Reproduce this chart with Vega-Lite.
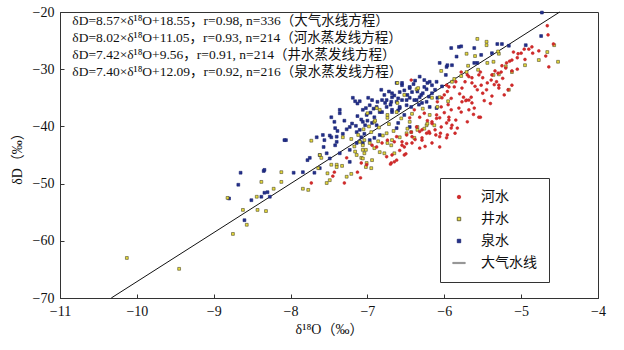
{
  "$schema": "https://vega.github.io/schema/vega-lite/v6.json",
  "width": 538,
  "height": 286,
  "autosize": "none",
  "padding": {"left": 60, "top": 12, "right": 26, "bottom": 52},
  "background": "white",
  "config": {
    "view": {"stroke": "#333", "strokeWidth": 1},
    "font": "Liberation Serif",
    "axis": {
      "grid": false,
      "domainColor": "#333",
      "tickColor": "#333",
      "tickSize": -4,
      "labelPadding": 10,
      "labelFont": "Liberation Serif",
      "labelFontSize": 14,
      "labelColor": "#111",
      "titleFont": "'Liberation Serif', 'Noto Sans CJK SC'",
      "titleFontSize": 14,
      "titleFontWeight": "normal",
      "titleColor": "#111",
      "labelFlush": false,
      "format": "d"
    }
  },
  "layer": [
    {
      "data": {"values": [
        {"x": -10.333, "y": -70},
        {"x": -4.498, "y": -20}
      ]},
      "mark": {"type": "line", "color": "#111", "strokeWidth": 1},
      "encoding": {
        "x": {"field": "x", "type": "quantitative", "scale": {"domain": [-11, -4], "nice": false, "zero": false},
          "axis": {"values": [-11, -10, -9, -8, -7, -6, -5, -4], "title": "δ¹⁸O（‰）", "titlePadding": 4}},
        "y": {"field": "y", "type": "quantitative", "scale": {"domain": [-70, -20], "nice": false, "zero": false},
          "axis": {"values": [-70, -60, -50, -40, -30, -20], "title": "δD（‰）", "titlePadding": 8}}
      }
    },
    {
      "data": {"values": [
        {"t":"泉水","x":-8.65,"y":-48.1},{"t":"泉水","x":-8.68,"y":-50.2},{"t":"泉水","x":-8.80,"y":-52.6},{"t":"泉水","x":-8.51,"y":-52.9},{"t":"泉水","x":-8.60,"y":-56.4},
        {"t":"泉水","x":-8.06,"y":-42.4},{"t":"泉水","x":-8.35,"y":-47.8},{"t":"泉水","x":-8.30,"y":-51.5},{"t":"泉水","x":-8.34,"y":-51.6},{"t":"泉水","x":-8.38,"y":-52.3},
        {"t":"泉水","x":-8.27,"y":-52.3},{"t":"泉水","x":-7.84,"y":-48.0},{"t":"泉水","x":-7.78,"y":-45.9},{"t":"泉水","x":-7.69,"y":-48.1},{"t":"泉水","x":-7.62,"y":-47.3},
        {"t":"泉水","x":-7.57,"y":-43.6},{"t":"泉水","x":-7.53,"y":-44.7},{"t":"泉水","x":-7.49,"y":-45.6},{"t":"泉水","x":-7.42,"y":-43.3},{"t":"泉水","x":-7.40,"y":-42.7},
        {"t":"泉水","x":-7.36,"y":-44.7},{"t":"泉水","x":-7.23,"y":-44.1},{"t":"泉水","x":-7.23,"y":-46.2},{"t":"泉水","x":-7.14,"y":-42.9},{"t":"泉水","x":-7.10,"y":-42.6},
        {"t":"泉水","x":-7.96,"y":-48.1},{"t":"泉水","x":-8.34,"y":-47.6},{"t":"泉水","x":-7.62,"y":-45.0},{"t":"泉水","x":-7.75,"y":-45.5},{"t":"泉水","x":-7.58,"y":-41.5},
        {"t":"泉水","x":-7.49,"y":-41.6},{"t":"泉水","x":-7.40,"y":-41.8},{"t":"泉水","x":-7.16,"y":-35.6},{"t":"泉水","x":-7.10,"y":-35.6},{"t":"泉水","x":-7.13,"y":-36.0},
        {"t":"泉水","x":-7.36,"y":-37.7},{"t":"泉水","x":-7.13,"y":-38.2},{"t":"泉水","x":-7.06,"y":-39.2},{"t":"泉水","x":-7.23,"y":-40.1},{"t":"泉水","x":-7.27,"y":-40.5},
        {"t":"泉水","x":-7.39,"y":-40.8},{"t":"泉水","x":-7.32,"y":-41.3},{"t":"泉水","x":-7.14,"y":-41.0},{"t":"泉水","x":-7.10,"y":-40.6},{"t":"泉水","x":-7.04,"y":-41.3},
        {"t":"泉水","x":-7.42,"y":-40.3},{"t":"泉水","x":-7.47,"y":-41.9},{"t":"泉水","x":-7.56,"y":-42.4},{"t":"泉水","x":-7.66,"y":-41.9},{"t":"泉水","x":-8.08,"y":-42.4},
        {"t":"泉水","x":-7.03,"y":-39.8},{"t":"泉水","x":-7.00,"y":-39.0},{"t":"泉水","x":-7.47,"y":-38.4},{"t":"泉水","x":-7.43,"y":-39.2},{"t":"泉水","x":-7.19,"y":-35.0},
        {"t":"泉水","x":-7.36,"y":-37.1},{"t":"泉水","x":-6.94,"y":-39.4},{"t":"泉水","x":-6.88,"y":-39.8},{"t":"泉水","x":-6.62,"y":-40.3},{"t":"泉水","x":-6.60,"y":-39.4},
        {"t":"泉水","x":-7.06,"y":-42.9},{"t":"泉水","x":-6.97,"y":-42.4},{"t":"泉水","x":-6.91,"y":-42.0},{"t":"泉水","x":-6.84,"y":-41.5},{"t":"泉水","x":-7.08,"y":-41.9},
        {"t":"泉水","x":-6.45,"y":-40.1},{"t":"泉水","x":-6.82,"y":-33.6},{"t":"泉水","x":-5.97,"y":-29.6},{"t":"泉水","x":-6.22,"y":-32.4},{"t":"泉水","x":-6.10,"y":-32.2},
        {"t":"泉水","x":-6.26,"y":-33.1},{"t":"泉水","x":-6.45,"y":-33.3},{"t":"泉水","x":-6.42,"y":-34.0},{"t":"泉水","x":-6.55,"y":-32.8},{"t":"泉水","x":-6.58,"y":-34.0},
        {"t":"泉水","x":-6.68,"y":-34.2},{"t":"泉水","x":-6.78,"y":-34.5},{"t":"泉水","x":-6.81,"y":-35.4},{"t":"泉水","x":-6.87,"y":-35.7},{"t":"泉水","x":-6.94,"y":-35.4},
        {"t":"泉水","x":-6.97,"y":-36.3},{"t":"泉水","x":-6.88,"y":-36.6},{"t":"泉水","x":-6.75,"y":-36.6},{"t":"泉水","x":-6.69,"y":-35.7},{"t":"泉水","x":-6.62,"y":-35.7},
        {"t":"泉水","x":-6.55,"y":-35.4},{"t":"泉水","x":-6.45,"y":-35.0},{"t":"泉水","x":-6.39,"y":-35.4},{"t":"泉水","x":-6.32,"y":-34.9},{"t":"泉水","x":-6.23,"y":-35.7},
        {"t":"泉水","x":-6.49,"y":-36.3},{"t":"泉水","x":-6.58,"y":-36.8},{"t":"泉水","x":-6.84,"y":-37.5},{"t":"泉水","x":-6.68,"y":-37.5},{"t":"泉水","x":-7.01,"y":-38.0},
        {"t":"泉水","x":-6.91,"y":-38.4},{"t":"泉水","x":-7.06,"y":-37.1},{"t":"泉水","x":-7.08,"y":-38.8},{"t":"泉水","x":-5.91,"y":-26.3},{"t":"泉水","x":-5.81,"y":-26.1},
        {"t":"泉水","x":-5.84,"y":-27.8},{"t":"泉水","x":-6.06,"y":-28.9},{"t":"泉水","x":-5.96,"y":-29.3},{"t":"泉水","x":-5.90,"y":-29.3},{"t":"泉水","x":-6.19,"y":-32.2},
        {"t":"泉水","x":-6.16,"y":-32.8},{"t":"泉水","x":-6.32,"y":-31.3},{"t":"泉水","x":-6.55,"y":-32.4},{"t":"泉水","x":-6.62,"y":-32.4},{"t":"泉水","x":-6.45,"y":-33.1},
        {"t":"泉水","x":-6.23,"y":-33.5},{"t":"泉水","x":-6.16,"y":-34.2},{"t":"泉水","x":-6.09,"y":-35.0},{"t":"泉水","x":-6.30,"y":-34.5},{"t":"泉水","x":-6.68,"y":-34.9},
        {"t":"泉水","x":-6.49,"y":-35.4},{"t":"泉水","x":-6.36,"y":-35.4},{"t":"泉水","x":-6.75,"y":-35.4},{"t":"泉水","x":-6.58,"y":-36.6},{"t":"泉水","x":-6.43,"y":-36.6},
        {"t":"泉水","x":-6.29,"y":-35.9},{"t":"泉水","x":-6.19,"y":-36.6},{"t":"泉水","x":-6.10,"y":-36.8},{"t":"泉水","x":-6.81,"y":-37.5},{"t":"泉水","x":-6.68,"y":-37.1},
        {"t":"泉水","x":-6.52,"y":-38.0},{"t":"泉水","x":-5.78,"y":-26.0},{"t":"泉水","x":-5.61,"y":-26.3},{"t":"泉水","x":-5.52,"y":-27.5},{"t":"泉水","x":-5.31,"y":-25.6},
        {"t":"泉水","x":-5.25,"y":-25.6},{"t":"泉水","x":-5.16,"y":-25.9},{"t":"泉水","x":-5.38,"y":-27.2},{"t":"泉水","x":-4.94,"y":-25.8},{"t":"泉水","x":-4.74,"y":-24.2},
        {"t":"泉水","x":-5.61,"y":-28.9},{"t":"泉水","x":-5.57,"y":-28.9},{"t":"泉水","x":-4.73,"y":-20.1},
        {"t":"泉水","x":-6.72,"y":-33.9},{"t":"泉水","x":-6.65,"y":-34.6},{"t":"泉水","x":-6.52,"y":-33.7},{"t":"泉水","x":-6.40,"y":-32.6},{"t":"泉水","x":-6.35,"y":-33.9},
        {"t":"泉水","x":-6.28,"y":-34.2},{"t":"泉水","x":-6.60,"y":-35.1},{"t":"泉水","x":-6.92,"y":-36.9},{"t":"泉水","x":-6.99,"y":-35.0},{"t":"泉水","x":-6.77,"y":-35.9},
        {"t":"泉水","x":-6.48,"y":-34.5},{"t":"泉水","x":-6.20,"y":-34.8},{"t":"泉水","x":-6.33,"y":-36.2},{"t":"泉水","x":-6.70,"y":-36.2},{"t":"泉水","x":-7.02,"y":-36.8},
        {"t":"泉水","x":-6.96,"y":-37.6},{"t":"泉水","x":-6.60,"y":-37.2},{"t":"泉水","x":-6.38,"y":-32.0},{"t":"泉水","x":-6.12,"y":-33.6},{"t":"泉水","x":-6.03,"y":-33.0},
        {"t":"泉水","x":-5.98,"y":-31.0},{"t":"泉水","x":-6.26,"y":-31.9},{"t":"泉水","x":-7.20,"y":-39.5},{"t":"泉水","x":-7.30,"y":-39.0},{"t":"泉水","x":-7.15,"y":-39.9},
        {"t":"井水","x":-10.13,"y":-63.0},{"t":"井水","x":-9.45,"y":-64.9},{"t":"井水","x":-8.82,"y":-52.5},{"t":"井水","x":-8.44,"y":-52.3},{"t":"井水","x":-8.62,"y":-54.6},
        {"t":"井水","x":-8.57,"y":-57.2},{"t":"井水","x":-8.75,"y":-58.8},{"t":"井水","x":-8.43,"y":-54.6},{"t":"井水","x":-8.32,"y":-54.8},{"t":"井水","x":-8.38,"y":-49.7},
        {"t":"井水","x":-8.12,"y":-48.0},{"t":"井水","x":-8.12,"y":-49.7},{"t":"井水","x":-8.22,"y":-50.9},{"t":"井水","x":-7.84,"y":-50.9},{"t":"井水","x":-7.77,"y":-51.1},
        {"t":"井水","x":-7.73,"y":-42.5},{"t":"井水","x":-7.62,"y":-45.0},{"t":"井水","x":-7.60,"y":-45.5},{"t":"井水","x":-7.64,"y":-47.3},{"t":"井水","x":-7.47,"y":-46.7},
        {"t":"井水","x":-7.40,"y":-46.7},{"t":"井水","x":-7.33,"y":-46.9},{"t":"井水","x":-7.52,"y":-48.2},{"t":"井水","x":-7.49,"y":-49.4},{"t":"井水","x":-7.53,"y":-49.9},
        {"t":"井水","x":-7.27,"y":-48.8},{"t":"井水","x":-7.21,"y":-48.3},{"t":"井水","x":-7.14,"y":-45.0},{"t":"井水","x":-7.06,"y":-43.3},{"t":"井水","x":-7.02,"y":-44.1},
        {"t":"井水","x":-7.08,"y":-45.5},{"t":"井水","x":-7.32,"y":-41.9},{"t":"井水","x":-7.21,"y":-42.2},{"t":"井水","x":-7.17,"y":-43.5},{"t":"井水","x":-7.10,"y":-42.7},
        {"t":"井水","x":-7.04,"y":-42.4},{"t":"井水","x":-6.49,"y":-41.2},{"t":"井水","x":-6.39,"y":-42.0},{"t":"井水","x":-6.48,"y":-40.4},{"t":"井水","x":-6.23,"y":-39.8},
        {"t":"井水","x":-6.13,"y":-39.8},{"t":"井水","x":-6.65,"y":-44.7},{"t":"井水","x":-6.84,"y":-44.5},{"t":"井水","x":-6.78,"y":-44.7},{"t":"井水","x":-6.91,"y":-43.8},
        {"t":"井水","x":-6.97,"y":-42.9},{"t":"井水","x":-7.06,"y":-44.1},{"t":"井水","x":-7.04,"y":-44.7},{"t":"井水","x":-6.94,"y":-45.9},{"t":"井水","x":-7.01,"y":-46.4},
        {"t":"井水","x":-6.95,"y":-47.3},{"t":"井水","x":-7.02,"y":-47.1},{"t":"井水","x":-7.06,"y":-45.6},{"t":"井水","x":-6.74,"y":-42.9},{"t":"井水","x":-6.68,"y":-42.4},
        {"t":"井水","x":-6.58,"y":-41.9},{"t":"井水","x":-6.43,"y":-41.0},{"t":"井水","x":-6.35,"y":-40.6},{"t":"井水","x":-6.69,"y":-43.3},{"t":"井水","x":-6.61,"y":-32.4},
        {"t":"井水","x":-6.36,"y":-33.5},{"t":"井水","x":-6.52,"y":-34.5},{"t":"井水","x":-6.84,"y":-37.1},{"t":"井水","x":-6.74,"y":-38.0},{"t":"井水","x":-7.00,"y":-37.7},
        {"t":"井水","x":-6.91,"y":-39.2},{"t":"井水","x":-6.62,"y":-37.5},{"t":"井水","x":-6.19,"y":-38.0},{"t":"井水","x":-6.06,"y":-34.9},{"t":"井水","x":-5.90,"y":-32.2},
        {"t":"井水","x":-6.22,"y":-39.5},{"t":"井水","x":-6.45,"y":-39.2},{"t":"井水","x":-6.35,"y":-40.1},{"t":"井水","x":-6.26,"y":-40.4},{"t":"井水","x":-5.57,"y":-24.7},
        {"t":"井水","x":-5.45,"y":-25.2},{"t":"井水","x":-5.45,"y":-25.8},{"t":"井水","x":-5.71,"y":-27.3},{"t":"井水","x":-5.60,"y":-27.7},{"t":"井水","x":-5.36,"y":-28.7},
        {"t":"井水","x":-4.77,"y":-28.4},{"t":"井水","x":-4.52,"y":-28.7},{"t":"井水","x":-4.95,"y":-29.3},{"t":"井水","x":-5.29,"y":-27.3},{"t":"井水","x":-5.44,"y":-28.9},
        {"t":"井水","x":-5.12,"y":-30.5},{"t":"井水","x":-5.16,"y":-33.6},{"t":"井水","x":-5.36,"y":-31.0},{"t":"井水","x":-5.29,"y":-30.9},{"t":"井水","x":-5.69,"y":-29.4},
        {"t":"井水","x":-5.78,"y":-31.2},{"t":"井水","x":-4.66,"y":-27.0},{"t":"井水","x":-4.57,"y":-25.8},{"t":"井水","x":-5.30,"y":-26.9},{"t":"井水","x":-5.71,"y":-30.5},
        {"t":"井水","x":-5.87,"y":-31.7},{"t":"井水","x":-6.04,"y":-30.3},{"t":"井水","x":-6.34,"y":-33.3},{"t":"井水","x":-6.16,"y":-35.0},{"t":"井水","x":-6.09,"y":-36.6},
        {"t":"井水","x":-6.61,"y":-35.9},{"t":"井水","x":-6.74,"y":-38.5},{"t":"井水","x":-6.88,"y":-36.8},{"t":"井水","x":-6.75,"y":-41.2},{"t":"井水","x":-7.40,"y":-47.1},
        {"t":"井水","x":-7.05,"y":-40.5},{"t":"井水","x":-6.95,"y":-41.0},{"t":"井水","x":-6.85,"y":-40.2},{"t":"井水","x":-6.90,"y":-39.0},{"t":"井水","x":-7.12,"y":-41.5},
        {"t":"井水","x":-6.80,"y":-41.6},
        {"t":"井水","x":-6.98,"y":-40.0},{"t":"井水","x":-6.72,"y":-39.6},{"t":"井水","x":-6.56,"y":-38.6},{"t":"井水","x":-6.66,"y":-40.8},{"t":"井水","x":-7.16,"y":-44.4},
        {"t":"井水","x":-6.86,"y":-42.6},{"t":"井水","x":-6.42,"y":-37.8},{"t":"井水","x":-6.28,"y":-36.9},{"t":"井水","x":-5.95,"y":-35.6},{"t":"井水","x":-5.56,"y":-30.1},
        {"t":"井水","x":-5.20,"y":-29.5},
        {"t":"河水","x":-4.66,"y":-22.4},{"t":"河水","x":-4.65,"y":-24.0},{"t":"河水","x":-4.58,"y":-25.6},{"t":"河水","x":-4.77,"y":-26.8},{"t":"河水","x":-4.68,"y":-27.7},
        {"t":"河水","x":-4.64,"y":-29.6},{"t":"河水","x":-4.86,"y":-26.1},{"t":"河水","x":-4.90,"y":-26.5},{"t":"河水","x":-4.96,"y":-26.5},{"t":"河水","x":-5.00,"y":-27.2},
        {"t":"河水","x":-5.04,"y":-27.3},{"t":"河水","x":-5.05,"y":-28.0},{"t":"河水","x":-5.12,"y":-28.4},{"t":"河水","x":-5.19,"y":-28.9},{"t":"河水","x":-5.15,"y":-28.6},
        {"t":"河水","x":-5.12,"y":-30.3},{"t":"河水","x":-5.20,"y":-29.8},{"t":"河水","x":-5.25,"y":-29.4},{"t":"河水","x":-5.26,"y":-30.5},{"t":"河水","x":-5.30,"y":-30.7},
        {"t":"河水","x":-5.34,"y":-30.3},{"t":"河水","x":-5.38,"y":-31.0},{"t":"河水","x":-5.39,"y":-31.9},{"t":"河水","x":-5.32,"y":-32.2},{"t":"河水","x":-5.35,"y":-32.7},
        {"t":"河水","x":-5.29,"y":-32.8},{"t":"河水","x":-5.44,"y":-32.4},{"t":"河水","x":-5.50,"y":-31.5},{"t":"河水","x":-5.53,"y":-30.5},{"t":"河水","x":-5.55,"y":-31.0},
        {"t":"河水","x":-5.64,"y":-31.5},{"t":"河水","x":-5.64,"y":-32.4},{"t":"河水","x":-5.70,"y":-31.0},{"t":"河水","x":-5.73,"y":-32.2},{"t":"河水","x":-5.77,"y":-33.3},
        {"t":"河水","x":-5.75,"y":-34.9},{"t":"河水","x":-5.77,"y":-35.7},{"t":"河水","x":-5.71,"y":-35.4},{"t":"河水","x":-5.65,"y":-34.9},{"t":"河水","x":-5.64,"y":-35.9},
        {"t":"河水","x":-5.61,"y":-36.8},{"t":"河水","x":-5.68,"y":-37.1},{"t":"河水","x":-5.53,"y":-38.4},{"t":"河水","x":-5.50,"y":-34.2},{"t":"河水","x":-5.57,"y":-33.6},
        {"t":"河水","x":-5.45,"y":-33.6},{"t":"河水","x":-5.38,"y":-34.7},{"t":"河水","x":-5.22,"y":-34.5},{"t":"河水","x":-5.17,"y":-33.6},{"t":"河水","x":-5.12,"y":-32.8},
        {"t":"河水","x":-5.29,"y":-33.3},{"t":"河水","x":-5.78,"y":-30.5},{"t":"河水","x":-5.68,"y":-31.3},{"t":"河水","x":-6.43,"y":-31.9},{"t":"河水","x":-5.97,"y":-32.8},
        {"t":"河水","x":-5.87,"y":-33.1},{"t":"河水","x":-5.96,"y":-33.9},{"t":"河水","x":-5.80,"y":-34.3},{"t":"河水","x":-5.91,"y":-35.1},{"t":"河水","x":-5.68,"y":-35.4},
        {"t":"河水","x":-6.04,"y":-36.6},{"t":"河水","x":-5.91,"y":-37.1},{"t":"河水","x":-5.81,"y":-36.8},{"t":"河水","x":-6.10,"y":-38.0},{"t":"河水","x":-5.94,"y":-38.4},
        {"t":"河水","x":-5.78,"y":-37.5},{"t":"河水","x":-5.55,"y":-38.4},{"t":"河水","x":-6.06,"y":-38.5},{"t":"河水","x":-6.16,"y":-39.2},{"t":"河水","x":-5.97,"y":-39.4},
        {"t":"河水","x":-6.04,"y":-40.1},{"t":"河水","x":-5.91,"y":-40.3},{"t":"河水","x":-5.83,"y":-40.3},{"t":"河水","x":-5.96,"y":-41.5},{"t":"河水","x":-6.06,"y":-41.8},
        {"t":"河水","x":-6.19,"y":-41.2},{"t":"河水","x":-6.29,"y":-40.6},{"t":"河水","x":-6.36,"y":-40.1},{"t":"河水","x":-6.43,"y":-41.0},{"t":"河水","x":-6.49,"y":-41.5},
        {"t":"河水","x":-6.62,"y":-41.8},{"t":"河水","x":-6.74,"y":-42.4},{"t":"河水","x":-6.65,"y":-42.7},{"t":"河水","x":-6.55,"y":-42.7},{"t":"河水","x":-6.42,"y":-42.9},
        {"t":"河水","x":-6.29,"y":-42.4},{"t":"河水","x":-6.16,"y":-42.9},{"t":"河水","x":-5.97,"y":-42.0},{"t":"河水","x":-6.32,"y":-43.8},{"t":"河水","x":-6.06,"y":-43.6},
        {"t":"河水","x":-6.52,"y":-43.6},{"t":"河水","x":-6.68,"y":-45.0},{"t":"河水","x":-6.62,"y":-45.9},{"t":"河水","x":-6.69,"y":-46.4},{"t":"河水","x":-6.52,"y":-45.0},
        {"t":"河水","x":-6.09,"y":-35.7},{"t":"河水","x":-6.03,"y":-35.0},{"t":"河水","x":-5.94,"y":-33.1},{"t":"河水","x":-6.10,"y":-38.6},{"t":"河水","x":-6.16,"y":-39.5},
        {"t":"河水","x":-5.94,"y":-38.9},{"t":"河水","x":-6.32,"y":-38.4},{"t":"河水","x":-6.39,"y":-37.1},{"t":"河水","x":-6.26,"y":-37.7},{"t":"河水","x":-5.72,"y":-35.5},
        {"t":"河水","x":-6.94,"y":-43.3},{"t":"河水","x":-6.88,"y":-43.6},{"t":"河水","x":-6.81,"y":-42.9},{"t":"河水","x":-6.55,"y":-43.3},{"t":"河水","x":-6.50,"y":-44.8},
        {"t":"河水","x":-6.65,"y":-46.2},{"t":"河水","x":-6.70,"y":-46.6},{"t":"河水","x":-7.09,"y":-49.0},{"t":"河水","x":-6.29,"y":-42.0},{"t":"河水","x":-6.11,"y":-41.5},
        {"t":"河水","x":-6.05,"y":-41.2},{"t":"河水","x":-5.90,"y":-39.8},{"t":"河水","x":-6.23,"y":-41.2},{"t":"河水","x":-6.20,"y":-40.9},{"t":"河水","x":-6.32,"y":-40.9},
        {"t":"河水","x":-6.42,"y":-41.8},{"t":"河水","x":-6.49,"y":-43.0},{"t":"河水","x":-7.73,"y":-49.9},{"t":"河水","x":-7.45,"y":-48.7},{"t":"河水","x":-7.43,"y":-48.0},
        {"t":"河水","x":-7.30,"y":-49.9},{"t":"河水","x":-7.27,"y":-45.5},{"t":"河水","x":-7.13,"y":-48.0},{"t":"河水","x":-7.08,"y":-46.4},{"t":"河水","x":-7.01,"y":-46.7},
        {"t":"河水","x":-6.00,"y":-37.6},{"t":"河水","x":-5.85,"y":-38.9},{"t":"河水","x":-5.62,"y":-37.9},{"t":"河水","x":-5.48,"y":-35.5},{"t":"河水","x":-5.40,"y":-36.0},
        {"t":"河水","x":-5.95,"y":-36.2},{"t":"河水","x":-6.22,"y":-39.0},{"t":"河水","x":-6.12,"y":-40.6},{"t":"河水","x":-6.38,"y":-42.3},{"t":"河水","x":-6.58,"y":-44.2},
        {"t":"河水","x":-5.86,"y":-41.2},{"t":"河水","x":-5.60,"y":-33.0},{"t":"河水","x":-5.52,"y":-32.8},{"t":"河水","x":-5.24,"y":-31.6},{"t":"河水","x":-5.05,"y":-30.0},
        {"t":"河水","x":-4.95,"y":-28.3},{"t":"河水","x":-4.85,"y":-27.2},{"t":"河水","x":-5.10,"y":-27.0},{"t":"河水","x":-6.25,"y":-43.5},{"t":"河水","x":-6.75,"y":-45.3},
        {"t":"河水","x":-5.70,"y":-39.2},{"t":"河水","x":-6.45,"y":-38.5},{"t":"河水","x":-5.85,"y":-32.2},{"t":"河水","x":-6.00,"y":-34.5}
      ]},
      "mark": {"type": "point", "filled": true, "opacity": 1, "size": 8, "strokeWidth": 0.6},
      "encoding": {
        "x": {"field": "x", "type": "quantitative"},
        "y": {"field": "y", "type": "quantitative"},
        "color": {"field": "t", "type": "nominal",
          "scale": {"domain": ["河水", "井水", "泉水", "大气水线"], "range": ["#d42a2a", "#e9dc3a", "#22308c", "#8a8a8a"]},
          "legend": {
            "title": null, "orient": "none", "legendX": 380, "legendY": 166,
            "strokeColor": "#333", "fillColor": "white", "padding": 12,
            "labelFont": "'Noto Sans CJK SC', 'Liberation Serif'", "labelFontSize": 14, "labelColor": "#111",
            "rowPadding": 8, "labelOffset": 15,
            "symbolSize": 12,
            "symbolStrokeWidth": 0.8,
            "encode": {"symbols": {"update": {
              "stroke": {"scale": "stroke", "field": "value"}
            }}}
          }},
        "stroke": {"field": "t", "type": "nominal",
          "scale": {"domain": ["河水", "井水", "泉水", "大气水线"], "range": ["#c42626", "#4d4a2a", "#1a2270", "#8a8a8a"]},
          "legend": null},
        "shape": {"field": "t", "type": "nominal",
          "scale": {"domain": ["河水", "井水", "泉水", "大气水线"], "range": ["circle", "square", "square", "M-3.6,-0.35H3.6V0.35H-3.6Z"]},
          "legend": null}
      }
    },
    {
      "data": {"values": [
        {"x": -10.84, "y": -21.6, "label": "δD=8.57×δ¹⁸O+18.55，r=0.98, n=336（大气水线方程）"},
        {"x": -10.84, "y": -24.55, "label": "δD=8.02×δ¹⁸O+11.05，r=0.93, n=214（河水蒸发线方程）"},
        {"x": -10.84, "y": -27.5, "label": "δD=7.42×δ¹⁸O+9.56，r=0.91, n=214（井水蒸发线方程）"},
        {"x": -10.84, "y": -30.45, "label": "δD=7.40×δ¹⁸O+12.09，r=0.92, n=216（泉水蒸发线方程）"}
      ]},
      "mark": {"type": "text", "align": "left", "baseline": "middle", "font": "'Liberation Serif', 'Noto Sans CJK SC'", "fontSize": 13.5, "color": "#111"},
      "encoding": {
        "x": {"field": "x", "type": "quantitative"},
        "y": {"field": "y", "type": "quantitative"},
        "text": {"field": "label"}
      }
    }
  ]
}
